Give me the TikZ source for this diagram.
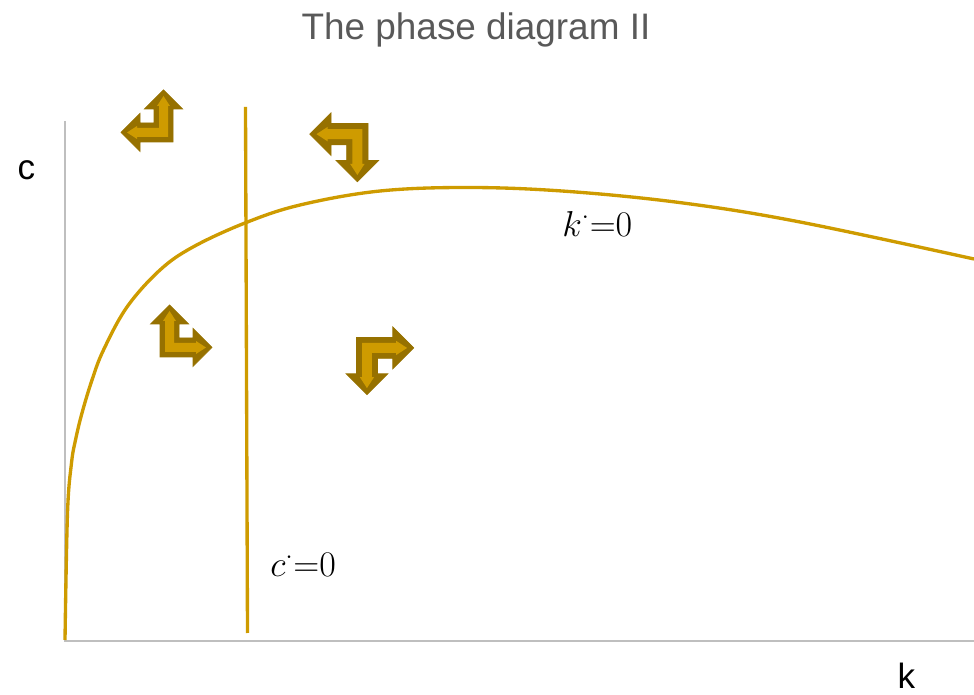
\RequirePackage{fix-cm}
\documentclass[tikz,border=0pt]{standalone}
\usepackage{fontspec}
\newfontfamily\slidefont{Liberation Sans}

\definecolor{golden}{RGB}{206,155,0}
\definecolor{darkgolden}{RGB}{150,113,0}
\definecolor{axisgray}{RGB}{191,191,191}
\definecolor{titlegray}{RGB}{89,89,89}

\tikzset{
  axis line/.style={draw=axisgray, line width=1.1pt},
  locus/.style={draw=golden, line width=1.9pt},
  arrow rim/.style={fill=darkgolden, draw=darkgolden, line width=0.4pt},
  arrow core/.style={fill=golden},
  label text/.style={font=\slidefont\fontsize{20}{24}\selectfont},
  math text/.style={font=\fontsize{20.5}{24}\selectfont},
  pics/turn/.style={code={
    \path[arrow rim] (0,0) -- (33,0) -- (33,9.5) -- (52,-9.5) -- (33,-28.5)
      -- (33,-19) -- (19,-19) -- (19,-33) -- (28.5,-33) -- (9.5,-52)
      -- (-9.5,-33) -- (0,-33) -- cycle;
    \path[arrow core] (5,-5) -- (36,-5) -- (36,-3) -- (46,-9.5) -- (36,-16)
      -- (36,-14) -- (14,-14) -- (14,-36) -- (16,-36) -- (9.5,-46)
      -- (3,-36) -- (5,-36) -- cycle;
  }}
}

\begin{document}
\begin{tikzpicture}[x=0.02cm, y=-0.02cm]
  \useasboundingbox (0,0) rectangle (974,695);

  \node[label text, text=titlegray, font=\slidefont\fontsize{21}{25}\selectfont, anchor=base] (title) at (476,40) {The phase diagram II};

  % axes
  \coordinate (origin) at (65,641);
  \coordinate (ytop) at (65,121);
  \coordinate (xend) at (974,641);
  \draw[axis line] (ytop) -- (origin) -- (xend);
  \node[label text, anchor=base] (clabel) at (26.5,180) {c};
  \node[label text, anchor=base] (klabel) at (906.5,688) {k};

  % c-dot = 0 locus
  \coordinate (ctop) at (245.5,107);
  \coordinate (cbottom) at (247.5,633);
  \draw[locus] (ctop) -- (cbottom);
  \node[math text, anchor=base west, inner sep=0pt] (cdot) at (270,577) {$c^{\cdot}{=}0$};

  % k-dot = 0 locus
  \draw[locus] plot[smooth, tension=0.6] coordinates {
    (65,640) (67.5,513) (71.5,463) (75.5,440) (82,413) (92,380) (103.5,350)
    (127,307) (160,270) (193,247) (245,223) (300,205) (380,191) (471,187.5)
    (569,191.5) (683,203) (800,222) (974,259)};
  \node[math text, anchor=base west, inner sep=0pt] (kdot) at (562,237) {$k^{\cdot}{=}0$};

  % directions of motion
  \pic[xscale=-1] at (173,142) {turn};
  \pic[xscale=-1.12, yscale=-1.12] at (368,123.5) {turn};
  \pic at (160,357) {turn};
  \pic[xscale=1.1, yscale=-1.1] at (356.5,337.5) {turn};
\end{tikzpicture}
\end{document}
